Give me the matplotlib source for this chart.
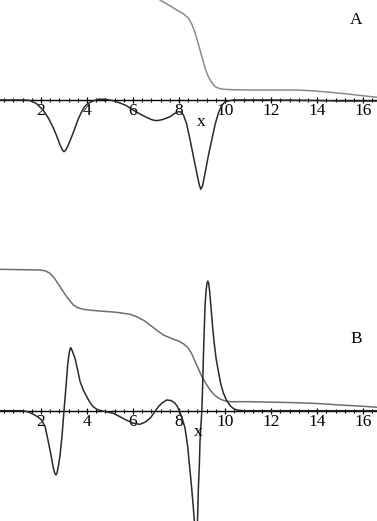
import numpy as np
import matplotlib
matplotlib.use("Agg")
import matplotlib.pyplot as plt

plt.rcParams['font.family'] = ['Liberation Serif', 'DejaVu Serif']

# panel A, upper (grey) curve
a_grey_x = [0.2, 4.0, 6.5, 7.17, 7.55, 7.9, 8.2, 8.41, 8.55, 8.7, 8.85, 8.99, 9.13, 9.27,
            9.42, 9.57, 9.75, 9.93, 10.3, 11.09, 12.0, 13.1, 13.8, 14.57, 15.2, 15.7, 16.2, 16.7]
a_grey_y = [150, 140, 115, 100, 95, 90, 86, 81.7, 76, 67, 55, 43.3, 32, 23.3,
            17.5, 13.3, 11.5, 10.7, 10.3, 10, 10, 10, 9.2, 7.7, 6.3, 5, 3.7, 2.5]

# panel A, lower (black) curve
a_black_x = [0.2, 1.3, 1.52, 1.8, 2.09, 2.32, 2.54, 2.7, 2.83, 2.93, 3.0, 3.08, 3.19, 3.33,
             3.48, 3.62, 3.77, 3.9, 4.06, 4.25, 4.5, 4.8, 5.13, 5.43, 5.7, 6.0, 6.3,
             6.6, 6.85, 7.03, 7.3, 7.61, 7.8, 7.97, 8.08, 8.19, 8.33, 8.48, 8.62, 8.77,
             8.87, 8.94, 9.02, 9.13, 9.27, 9.42, 9.57, 9.71, 9.85, 10.0, 10.35, 12.0,
             14.0, 15.0, 16.7]
a_black_y = [0, 0, -0.5, -3.5, -10, -18, -28, -37, -45, -50, -51.7, -50, -45, -37,
             -28, -19, -11.7, -6.5, -3.3, -1, 0.8, 0.8, -0.7, -3, -5.5, -10, -14,
             -17.5, -20, -20.7, -19.5, -16.7, -13.5, -11.7, -12, -15, -24, -40, -56, -73,
             -84, -89.3, -86, -73, -56, -40, -24, -13, -5.5, -1.7, 0, 0,
             -0.5, -1, -1]

# panel B, upper (grey) curve
b_grey_x = [0.2, 1.96, 2.2, 2.39, 2.6, 2.83, 3.0, 3.12, 3.25, 3.41, 3.6, 3.84, 4.2, 4.57,
            5.29, 5.87, 6.16, 6.45, 6.74, 7.03, 7.32, 7.65, 7.97, 8.2, 8.41, 8.55, 8.7,
            8.85, 8.99, 9.17, 9.35, 9.55, 9.78, 10.0, 10.22, 11.09, 13.1, 14.0, 15.0,
            15.8, 16.7]
b_grey_y = [141.4, 140.7, 139.8, 137.4, 132, 124, 118, 114, 110, 105.7, 103, 101.4, 100.4,
            99.7, 98.4, 96.4, 94, 90.5, 85.7, 80.5, 75.7, 72.5, 69.7, 66.8, 62.4, 57,
            49, 41.5, 34, 27, 20.7, 15.5, 11.7, 9.8, 9, 9, 8, 7.2, 5.7, 4.7, 3.3]

# panel B, lower (black) curve
b_black_x = [0.2, 1.22, 1.45, 1.67, 1.85, 2.03, 2.18, 2.32, 2.44, 2.54, 2.6, 2.65, 2.7,
             2.76, 2.83, 2.92, 3.0, 3.08, 3.16, 3.22, 3.26, 3.29, 3.32, 3.38, 3.48,
             3.6, 3.7, 3.85, 3.99, 4.12, 4.27, 4.42, 4.57, 4.85, 5.14, 5.43, 5.72, 6.01,
             6.3, 6.52, 6.74, 6.92, 7.1, 7.28, 7.46, 7.65, 7.83, 7.93, 8.01, 8.14, 8.26,
             8.37, 8.48, 8.55, 8.62, 8.68, 8.74, 8.79, 8.84, 8.88, 8.91, 8.95, 8.99,
             9.03, 9.06, 9.1, 9.13, 9.17, 9.21, 9.25, 9.29, 9.33, 9.38, 9.45, 9.52,
             9.61, 9.71, 9.82, 9.93, 10.07, 10.22, 10.36, 10.51, 10.8, 12.0, 16.7]
b_black_y = [0, 0, -1.2, -3.6, -6, -9.3, -16, -31, -45, -57.6, -62.5, -64.3, -62, -55,
             -44.3, -24, 0, 22, 45.7, 57, 61.5, 63, 62, 58.5, 52.4, 40, 29, 20, 14,
             8.5, 4, 1.5, 0.3, -1.2, -2.6, -6, -9.5, -12.6, -13.6, -11.5, -7.6, -2, 4,
             8, 10.7, 10.2, 7.4, 4, 0, -8, -17.6, -35, -61, -78, -97, -115, -130, -120,
             -77, -55, -31, -15, 0, 30, 55.7, 85, 105.7, 119, 127, 129.7, 127, 119,
             105.7, 86, 69, 52, 39, 26, 17.4, 10, 5, 2.2, 0.7, 0, 0, 0]

x_ticks = [2, 4, 6, 8, 10, 12, 14, 16]
x_lim = (0.22, 16.6)

W, H = 377, 521
fig = plt.figure(figsize=(W / 100, H / 100), dpi=100)
ax_a = fig.add_axes([0, 1 - 200 / H, 1, 200 / H])
ax_b = fig.add_axes([0, 0, 1, 266 / H])


def style_axes(ax, ylim):
    ax.set_xlim(*x_lim)
    ax.set_ylim(*ylim)
    ax.patch.set_alpha(0)
    for s in ['top', 'left', 'right']:
        ax.spines[s].set_visible(False)
    ax.spines['bottom'].set_position(('data', 0))
    ax.spines['bottom'].set_linewidth(1.0)
    ax.spines['bottom'].set_zorder(1)
    ax.set_yticks([])
    ax.set_xticks(x_ticks)
    ax.set_xticklabels([str(t) for t in x_ticks])
    ax.set_xticks(np.arange(0.4, 16.7, 0.4), minor=True)
    ax.tick_params(axis='x', which='major', direction='inout', length=5, width=0.9,
                   labelsize=12.5, pad=0)
    ax.tick_params(axis='x', which='minor', direction='inout', length=3.5, width=0.8)


# panel A
style_axes(ax_a, (-100, 100))
ax_a.plot(a_grey_x, a_grey_y, color='#8a8a8a', lw=1.1, zorder=3)
ax_a.plot(a_black_x, a_black_y, color='#2a2a2a', lw=1.1, zorder=3)
ax_a.text(8.95, -22, 'x', ha='center', va='center', fontsize=12.5)
ax_a.text(15.7, 80, 'A', ha='center', va='center', fontsize=12.5)

# panel B
style_axes(ax_b, (-110.3, 155.7))
ax_b.plot(b_grey_x, b_grey_y, color='#6e6e6e', lw=1.1, zorder=3)
ax_b.plot(b_black_x, b_black_y, color='#2a2a2a', lw=1.1, zorder=3)
ax_b.text(8.85, -21, 'x', ha='center', va='center', fontsize=12.5)
ax_b.text(15.7, 72, 'B', ha='center', va='center', fontsize=12.5)

plt.savefig("out.png", dpi=100)
